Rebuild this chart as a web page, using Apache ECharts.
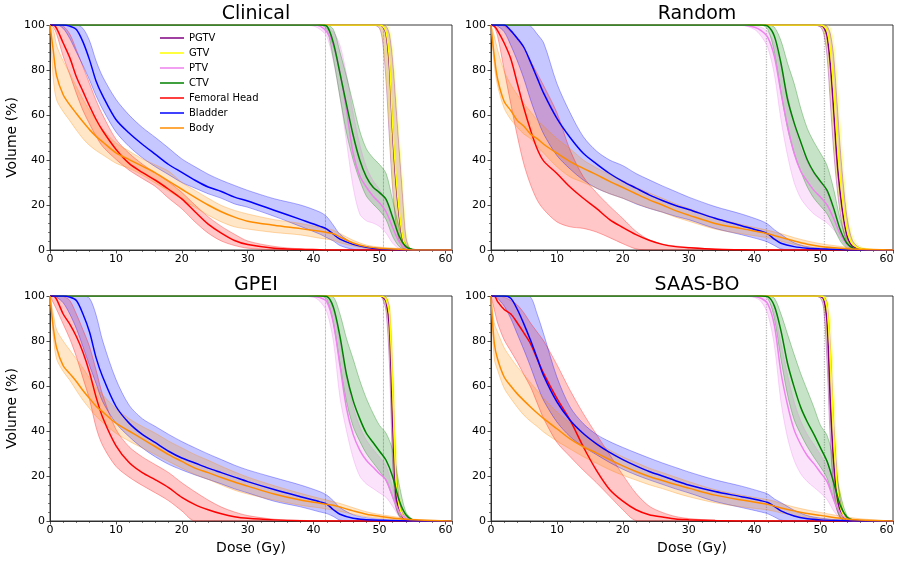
<!DOCTYPE html>
<html>
<head>
<meta charset="utf-8">
<script src="https://cdn.jsdelivr.net/npm/echarts/dist/echarts.min.js"></script>
<style>html,body{margin:0;padding:0;background:#fff}#c{width:899px;height:561px}</style>
</head>
<body>
<div id="c"></div>
<script>
// ---------- axes / categories ----------
const PANELS = ['Clinical', 'Random', 'GPEI', 'SAAS-BO'];
const STRUCTS = ['PGTV', 'GTV', 'PTV', 'CTV', 'Femoral Head', 'Bladder', 'Body'];
const COLORS = ['#800080', '#FFFF00', '#EE82EE', '#008000', '#FF0000', '#0000FF', '#FF8C00'];
const REF_DOSES = [41.8, 50.6];
const X_TICKS = [0, 10, 20, 30, 40, 50, 60];
const Y_TICKS = [0, 20, 40, 60, 80, 100];

// dose grids (Gy)
const OAR_DOSE = [0,0.5,1,2,3,4,5,6,7,8,10,12,14,16,18,20,22,24,26,28,30,34,38,41,42,43,44,46,48,50,53,56,61];
const TV_DOSE = [0,38,40,41,42,43,44,45,46,47,48,49,50,51,52,53,54,55,56,61];
const GTV_DOSE = [0,49,50,50.5,51,51.5,52,52.5,53,53.5,54,54.5,55,56,58,61];

// ---------- Clinical ----------
const clin_pgtv_mean = [100,100,100,99.3,96,82,52,30,15,5,1.2,0.3,0,0,0,0];
const clin_pgtv_lo   = [100,100,98.5,92,75,50,27,12,4,1.2,0.2,0,0,0,0,0];
const clin_pgtv_hi   = [100,100,100,100,99.5,96,84,64,44,24,6,1.2,0.2,0,0,0];
const clin_gtv_mean  = [100,100,100,99.5,97,85,55,33,17,6,1.5,0.4,0.1,0,0,0];
const clin_gtv_lo    = [100,100,99,94,78,55,30,14,5,1.5,0.3,0.1,0,0,0,0];
const clin_gtv_hi    = [100,100,100,100,100,98,88,70,50,30,8,1.5,0.3,0,0,0];
const clin_ptv_mean  = [100,100,100,99.5,97,91,79,62,43,33,28,24,21,17,10,3.5,0.8,0.1,0,0];
const clin_ptv_lo    = [100,100,99.5,98,95,84,68,48,28,16,13,12,10.5,7.5,3,0.6,0,0,0,0];
const clin_ptv_hi    = [100,100,100,100,99,97,91,78,61,47,37,31,27,22,14,5,1.2,0.2,0,0];
const clin_ctv_mean  = [100,100,100,100,99.5,92,78.5,64.5,51,40,32.5,28,25.5,22.5,14.5,6,1.5,0.2,0,0];
const clin_ctv_lo    = [100,100,100,100,98,85,68,52,40,31,24,20.5,17.5,13.5,6,1.5,0.2,0,0,0];
const clin_ctv_hi    = [100,100,100,100,100,98,88,77,65,53,45,41,38,34,22,10,2.5,0.3,0,0];
const clin_fh_mean   = [100,100,98.5,92,85.5,77,70.5,64,58,53,44.8,38.5,34.5,31,27,22.7,17,11.5,7.5,4.2,2.4,0.8,0.3,0.1,0,0,0,0,0,0,0,0,0];
const clin_fh_lo     = [100,99,96,86,78,69.6,62,56,50.5,46,40.3,35.5,31.8,28.2,23,18.3,12.5,7.5,4,2,0.8,0.1,0,0,0,0,0,0,0,0,0,0,0];
const clin_fh_hi     = [100,100,100,99.5,96,89,81.5,74,66.5,60,49.3,43,38.2,34.2,30.3,25.6,20,14.8,10.5,7,4,1.6,0.5,0.2,0.1,0,0,0,0,0,0,0,0];
const clin_bl_mean   = [100,100,100,100,99.5,98,92.5,84.5,75,68.5,58,52,47,42.5,38,34.5,31,28,26,23.5,21.8,17.7,13.6,10.5,9.3,7,4.8,2.5,1.2,0.5,0.1,0,0];
const clin_bl_lo     = [100,100,100,98.5,94,88,82,75.5,68.5,62.5,52.5,46,41,37,33.5,30,27.5,25,23,20.5,19,15,10.5,7,5.5,4,2,0.3,0,0,0,0,0];
const clin_bl_hi     = [100,100,100,100,100,100,98.5,93,84,77,67,60,54.5,50,45.3,40.5,37,33.7,31,28.7,26.5,22.8,20,16.8,14.8,11,7,3,1.6,0.8,0.3,0,0];
const clin_body_mean = [100,88.5,77.5,69,64.5,60.7,57,53.5,50.5,48,43.2,40.2,37.3,34.3,30.6,27,23.4,20,17,14.6,12.8,11,9.5,8.3,7.8,7.2,5.8,3.1,1.5,0.8,0.3,0,0];
const clin_body_lo   = [100,76,66.7,61.5,57.5,53.3,49.5,46.5,44.2,42.3,38.6,36.3,33.3,29.7,26.2,22.5,19,15.5,12.5,10.3,9.3,7.8,6.7,5.2,4.8,4.3,3.2,1.8,0.7,0.3,0,0,0];
const clin_body_hi   = [100,98,91,84,78.5,72.6,67,62,57.5,53.5,47.6,44,40.5,37.8,35,30,26.5,23,19.8,17.6,16,13.5,11.8,10,9.5,8.8,7.3,4.3,2.2,1.3,0.7,0.2,0];

// ---------- Random ----------
const rand_pgtv_mean = [100,100,99.8,99,95,82,62,40,25,14,6.5,3,1.4,0.4,0,0];
const rand_pgtv_lo   = [100,100,99,96,86,65,44,28,16,8,3.5,1.5,0.5,0.1,0,0];
const rand_pgtv_hi   = [100,100,100,100,99.5,96,86,66,45,28,15,7.5,3.5,1,0.1,0];
const rand_gtv_mean  = [100,100,100,99.5,97.5,89,72,50,32,19,9.5,4.5,2.2,0.7,0.1,0];
const rand_gtv_lo    = [100,100,99.5,97.5,90,72,50,32,19,10,4.5,2,0.8,0.2,0,0];
const rand_gtv_hi    = [100,100,100,100,100,98.5,92,76,55,35,19,10,5,1.5,0.2,0];
const rand_ptv_mean  = [100,100,99,97.5,94.5,86,70,55,43,35,30.5,26.5,23.5,20,14,7,2.7,0.7,0.1,0];
const rand_ptv_lo    = [100,99.8,98,95,90,78,58,42,30,23,19,16,14,12,9,5,1.5,0.3,0,0];
const rand_ptv_hi    = [100,100,99.7,99,97,92,82,69,56,45,39,34,30,25.5,17.5,9,3.5,1,0.2,0];
const rand_ctv_mean  = [100,100,100,100,99.5,95,83,67,56.5,48,40,34.5,30.5,26.5,18.5,9,3,0.7,0.1,0];
const rand_ctv_lo    = [100,100,100,100,98,88,70,54,43,35,28,23,19.5,16,10,4,0.8,0.1,0,0];
const rand_ctv_hi    = [100,100,100,100,100,99,93,83,74,63,54,48,43,37.5,27,13.5,5,1.2,0.2,0];
const rand_fh_mean   = [100,99.5,97.5,92,85,74,63,53.3,45,39.5,34,28,23,18.5,13.5,10,6.8,4.3,2.5,1.5,1,0.3,0.1,0,0,0,0,0,0,0,0,0,0];
const rand_fh_lo     = [100,99,95,80,65,50.5,38,29,22.2,18,12.5,10.3,9.6,8,5.5,2.8,0.5,0,0,0,0,0,0,0,0,0,0,0,0,0,0,0,0];
const rand_fh_hi     = [100,100,100,99.5,97,94.5,90,84,78.5,73,61,44.4,32.6,25.5,19.5,14,8.3,4.5,2.6,1.8,1.2,0.4,0.1,0,0,0,0,0,0,0,0,0,0];
const rand_bl_mean   = [100,100,100,100,97.5,94,90,83.5,76.5,69.6,58.5,50,43,38.3,34,30.5,27.5,24.5,22,19.8,18,14.1,10.8,8.3,7.2,4.8,3,1.5,0.8,0.5,0.2,0,0];
const rand_bl_lo     = [100,100,99.5,97,91,84,76,66.7,58.5,51.5,42,36,31.1,27.5,25,23,20.5,18.5,16.8,15,13.5,9.6,6.8,4.5,3.5,2,0.5,0,0,0,0,0,0];
const rand_bl_hi     = [100,100,100,100,100,100,100,99.5,96,92,74,61,50.4,44,40,37.5,34,31.2,28.5,26,23.5,19.3,16,13,11.5,9,7,3.2,1.5,0.8,0.3,0,0];
const rand_body_mean = [100,86,76,66,62,57.5,55,51.5,49.5,47,43,39.3,36.3,33.5,30.5,27.8,25,22.3,20,17.5,15.5,11.8,9.5,7.9,7.2,6.4,5.6,4,2.6,1.6,0.8,0.3,0];
const rand_body_lo   = [100,82,73,63,58,54.5,51.5,49.5,46,43,37,32.5,30,27.5,25,23,20.7,18.6,16.8,14.6,12.8,9.3,7.2,5.9,5.4,4.6,3.9,2.5,1.3,0.6,0.2,0,0];
const rand_body_hi   = [100,95,89,79.5,73.5,69,65,61.5,57.8,55,49.5,45,40,36.5,33.5,30.8,28,25.3,23,20.5,18.5,14.3,11.3,9.4,8.8,8,7.3,5.5,4,2.8,1.6,0.6,0];

// ---------- GPEI ----------
const gpei_pgtv_mean = [100,100,100,99.5,97.5,86,43,11,4.9,2,0.5,0.2,0,0,0,0];
const gpei_pgtv_lo   = [100,100,100,98.5,93,70,25,6,2,0.5,0.1,0,0,0,0,0];
const gpei_pgtv_hi   = [100,100,100,100,99.5,95,65,25,9,3.5,1.2,0.4,0.1,0,0,0];
const gpei_gtv_mean  = [100,100,100,99.8,98.5,92,58,18,6.5,2.5,0.8,0.2,0,0,0,0];
const gpei_gtv_lo    = [100,100,100,99,96,80,40,10,3.5,1,0.3,0,0,0,0,0];
const gpei_gtv_hi    = [100,100,100,100,100,97.5,75,35,12,4.5,1.5,0.5,0.1,0,0,0];
const gpei_ptv_mean  = [100,100,99.8,99.3,97.5,88,69,50,38.5,31.5,27,24,21,18.2,10.8,4,1.2,0.2,0,0];
const gpei_ptv_lo    = [100,100,99.5,97.5,93,80,55,40,28,20,16.5,14.5,12.5,10.5,6.5,2,0.4,0,0,0];
const gpei_ptv_hi    = [100,100,100,99.8,99,94,80,64,51,42,36,32,28.5,24.5,15,6,1.8,0.3,0,0];
const gpei_ctv_mean  = [100,100,100,100,99.8,95,82,65,53.5,45.5,39,35,31,27,19.7,9,2.8,0.5,0.1,0];
const gpei_ctv_lo    = [100,100,100,100,98.5,88,70,53,42,35.5,30,26,22.2,17.8,10.4,2.5,0.3,0,0,0];
const gpei_ctv_hi    = [100,100,100,100,100,99.5,92,81,72,62.5,54.5,48,42.5,39,31.5,16,4,0.8,0.2,0];
const gpei_fh_mean   = [100,100,98.5,92,87.5,82,75,66,55,46,33.5,26,21.5,18.3,14.8,10.5,7.3,5,3.2,1.9,1.2,0.5,0.1,0,0,0,0,0,0,0,0,0,0];
const gpei_fh_lo     = [100,97,94,87.5,81,73,63.5,54,41.5,33.5,24.3,19.5,15.8,12.5,9,4.5,0,0,0,0,0,0,0,0,0,0,0,0,0,0,0,0,0];
const gpei_fh_hi     = [100,100,100,99.8,98,92,85,77.5,67,56,40.8,33,28.5,25,21.5,17,13,9.3,6.2,4,2.4,0.8,0.3,0.1,0,0,0,0,0,0,0,0,0];
const gpei_bl_mean   = [100,100,100,100,99.5,98,92,84,72.5,64,51,43.5,38.5,34.8,31,28,25.8,23.5,21.5,19.5,17.5,14,10.8,8.5,7.5,5,3,1.2,0.6,0.3,0.1,0,0];
const gpei_bl_lo     = [100,100,99.5,97,92,85.5,77.4,69,61,53,43.5,37.5,32.5,28.5,25.2,22.7,20.5,18.5,16.5,14.3,12.5,8.8,6.3,4,3.3,2,0.4,0,0,0,0,0,0];
const gpei_bl_hi     = [100,100,100,100,100,100,100,99,91.5,80,63,51.5,45.5,42,38.5,35.3,32.5,29.8,27.3,24.8,22.7,19.3,16,13,11.5,9,6,2.8,1.5,0.8,0.3,0,0];
const gpei_body_mean = [100,86,77,69,65.5,62,58,54.5,51,48.5,43.5,40,36.5,33,29.5,26.5,23.5,21.5,19.3,17.3,15.5,12,9.3,7.9,7.4,7,6.2,4.5,3,2.1,1,0.4,0];
const gpei_body_lo   = [100,82,72,66.5,62.6,58,53.7,50,46.5,43.8,39,35.5,32.5,29.5,26.5,23.5,20.7,18.5,16,13.7,12,9.3,7,5.8,5.3,4.9,4.3,3,1.9,1.2,0.5,0.1,0];
const gpei_body_hi   = [100,92,85,80,76,72,68,63.5,59.5,56,50,45.5,42,39,35.5,32.5,29.5,27,24.3,21.8,19.5,15.7,12.3,10,9.3,8.5,7.8,5.9,4.1,2.9,1.6,0.6,0];

// ---------- SAAS-BO ----------
const saas_pgtv_mean = [100,100,99.8,98.5,88,52,26,11,4.5,1.6,0.5,0.1,0,0,0,0];
const saas_pgtv_lo   = [100,100,99,94,70,35,14,5,1.5,0.4,0,0,0,0,0,0];
const saas_pgtv_hi   = [100,100,100,99.8,97,78,45,22,9,3.5,1.2,0.3,0,0,0,0];
const saas_gtv_mean  = [100,100,100,99.5,95,72,38,16,6.5,2.5,0.8,0.2,0,0,0,0];
const saas_gtv_lo    = [100,100,99.5,97,82,50,22,8,3,1,0.2,0,0,0,0,0];
const saas_gtv_hi    = [100,100,100,100,99,90,60,30,13,5,1.8,0.5,0.1,0,0,0];
const saas_ptv_mean  = [100,100,99.8,99,96.5,87,66,51.5,40.5,34,29,25.5,21.5,17.5,9.5,3.5,0.8,0.1,0,0];
const saas_ptv_lo    = [100,100,99.3,97.5,92,78,53,37,27,21,17.5,15,12.5,9.5,4.5,1.2,0.2,0,0,0];
const saas_ptv_hi    = [100,100,100,99.7,98.5,93,79,65,53,44.5,38.5,34,29.5,24,14.5,5.5,1.2,0.2,0,0];
const saas_ctv_mean  = [100,100,100,100,99.7,95.5,84.5,70,59.5,50.5,44,38.5,32.5,26.5,17,7,1.8,0.4,0,0];
const saas_ctv_lo    = [100,100,100,100,99,90,72,56,45,38.5,33,28.3,24,19,9.5,1.5,0.1,0,0,0];
const saas_ctv_hi    = [100,100,100,100,100,99,92,83,74,65.5,58,50.5,42.5,38,27,12,2.5,0.4,0,0];
const saas_fh_mean   = [100,100,97.5,94,92,88,83.5,78.8,72,65.5,54.5,44.8,33,22.5,14,8.8,5,2.8,1.8,0.9,0.6,0.2,0,0,0,0,0,0,0,0,0,0,0];
const saas_fh_lo     = [100,94,88,80.5,75.5,70.5,65,59.6,52.5,45.5,35,28.6,22.6,17,11,5,0.2,0,0,0,0,0,0,0,0,0,0,0,0,0,0,0,0];
const saas_fh_hi     = [100,100,100,99.5,98,96,92.5,88,84,80,69.5,58.1,47.8,38.5,29.5,20.5,12.3,6.6,3.8,2,1.1,0.3,0.1,0,0,0,0,0,0,0,0,0,0];
const saas_bl_mean   = [100,100,100,100,99,94,87.5,80.3,72.5,64.5,53,44.8,38.9,34.3,30.5,27.3,24.5,22,20,17.9,16,13.1,10.8,9,8.2,6.5,4.5,2.2,1,0.5,0.2,0,0];
const saas_bl_lo     = [100,100,99,95.5,90,83,76,68.5,60.5,53.5,44,37.5,33,29.5,26,23,20.5,18.3,16.3,14.3,12.5,8.7,6,4,3.2,1.8,0.4,0,0,0,0,0,0];
const saas_bl_hi     = [100,100,100,100,100,100,100,99.5,92,83,64,50.7,43.3,38.5,35.3,32.7,30.3,28,25.8,23.8,21.8,18.3,15.5,13,12,9.8,8.2,4.8,2.4,1.3,0.4,0,0];
const saas_body_mean = [100,79,72,64,60,56.5,53.5,50.7,48,45.5,41,36.5,33,30.2,27.3,24.5,22,19.8,18,16.2,14.6,11.5,9.3,7.9,7.4,6.6,5.8,4.5,3.3,2.5,1.2,0.4,0];
const saas_body_lo   = [100,72,67,59,54.5,50.5,47,44.3,42,39.5,35.5,32,28.6,25.7,22.8,20.3,18.2,16.1,14.4,12.5,10.8,8.1,6.3,5.3,4.9,4.3,3.6,2.5,1.5,0.9,0.3,0,0];
const saas_body_hi   = [100,88,84,77,72.5,68.5,65,61.5,58,54.5,48.5,43.5,39,35,31.5,28.5,26,23.5,21.5,19.5,17.5,13.9,11.5,10,9.5,8.8,7.8,6.2,4.9,3.8,2.2,1,0];

// ---------- table built from the arrays ----------
const TABLE = [
  [[GTV_DOSE,clin_pgtv_mean,clin_pgtv_lo,clin_pgtv_hi],[GTV_DOSE,clin_gtv_mean,clin_gtv_lo,clin_gtv_hi],
   [TV_DOSE,clin_ptv_mean,clin_ptv_lo,clin_ptv_hi],[TV_DOSE,clin_ctv_mean,clin_ctv_lo,clin_ctv_hi],
   [OAR_DOSE,clin_fh_mean,clin_fh_lo,clin_fh_hi],[OAR_DOSE,clin_bl_mean,clin_bl_lo,clin_bl_hi],
   [OAR_DOSE,clin_body_mean,clin_body_lo,clin_body_hi]],
  [[GTV_DOSE,rand_pgtv_mean,rand_pgtv_lo,rand_pgtv_hi],[GTV_DOSE,rand_gtv_mean,rand_gtv_lo,rand_gtv_hi],
   [TV_DOSE,rand_ptv_mean,rand_ptv_lo,rand_ptv_hi],[TV_DOSE,rand_ctv_mean,rand_ctv_lo,rand_ctv_hi],
   [OAR_DOSE,rand_fh_mean,rand_fh_lo,rand_fh_hi],[OAR_DOSE,rand_bl_mean,rand_bl_lo,rand_bl_hi],
   [OAR_DOSE,rand_body_mean,rand_body_lo,rand_body_hi]],
  [[GTV_DOSE,gpei_pgtv_mean,gpei_pgtv_lo,gpei_pgtv_hi],[GTV_DOSE,gpei_gtv_mean,gpei_gtv_lo,gpei_gtv_hi],
   [TV_DOSE,gpei_ptv_mean,gpei_ptv_lo,gpei_ptv_hi],[TV_DOSE,gpei_ctv_mean,gpei_ctv_lo,gpei_ctv_hi],
   [OAR_DOSE,gpei_fh_mean,gpei_fh_lo,gpei_fh_hi],[OAR_DOSE,gpei_bl_mean,gpei_bl_lo,gpei_bl_hi],
   [OAR_DOSE,gpei_body_mean,gpei_body_lo,gpei_body_hi]],
  [[GTV_DOSE,saas_pgtv_mean,saas_pgtv_lo,saas_pgtv_hi],[GTV_DOSE,saas_gtv_mean,saas_gtv_lo,saas_gtv_hi],
   [TV_DOSE,saas_ptv_mean,saas_ptv_lo,saas_ptv_hi],[TV_DOSE,saas_ctv_mean,saas_ctv_lo,saas_ctv_hi],
   [OAR_DOSE,saas_fh_mean,saas_fh_lo,saas_fh_hi],[OAR_DOSE,saas_bl_mean,saas_bl_lo,saas_bl_hi],
   [OAR_DOSE,saas_body_mean,saas_body_lo,saas_body_hi]]
];

// ---------- layout ----------
const FONT = 'DejaVu Sans';
const GRID_POS = [
  {left: 50, top: 25}, {left: 491, top: 25},
  {left: 50, top: 296}, {left: 491, top: 296}
];
const GW = 402, GH = 225;
const REF_STYLE = [
  {color: '#777', width: 0.7}, {color: '#bbb', width: 1.3},
  {color: '#777', width: 0.7}, {color: '#bbb', width: 1.3}
];
const SMOOTH = 0.3;

const grids = [], xAxes = [], yAxes = [], titles = [], series = [];
for (let p = 0; p < 4; p++) {
  const g = GRID_POS[p];
  grids.push({left: g.left, top: g.top, width: GW, height: GH, show: true,
    borderColor: '#222', borderWidth: 0.9, backgroundColor: 'transparent', containLabel: false});
  titles.push({text: PANELS[p], left: g.left + GW / 2, top: g.top - 25, textAlign: 'center',
    textStyle: {fontFamily: FONT, fontSize: 19, fontWeight: 'normal', color: '#000'}});
  xAxes.push({type: 'value', gridIndex: p, min: X_TICKS[0], max: 61, interval: 10,
    name: p >= 2 ? 'Dose (Gy)' : '', nameLocation: 'middle', nameGap: 20,
    nameTextStyle: {fontFamily: FONT, fontSize: 14, color: '#000'},
    axisLine: {show: true, onZero: false, lineStyle: {color: '#222', width: 0.9}},
    axisTick: {show: true, length: 3.5, lineStyle: {color: '#222', width: 0.8}},
    minorTick: {show: true, splitNumber: 5, length: 2, lineStyle: {color: '#222', width: 0.6}},
    axisLabel: {fontFamily: FONT, fontSize: 11, color: '#000', margin: 4, showMaxLabel: false},
    splitLine: {show: false}, minorSplitLine: {show: false}});
  yAxes.push({type: 'value', gridIndex: p, min: Y_TICKS[0], max: Y_TICKS[Y_TICKS.length - 1], interval: 20,
    name: (p % 2 === 0) ? 'Volume (%)' : '', nameLocation: 'middle', nameGap: 31,
    nameTextStyle: {fontFamily: FONT, fontSize: 14, color: '#000'},
    axisLine: {show: true, onZero: false, lineStyle: {color: '#222', width: 0.9}},
    axisTick: {show: true, length: 3.5, lineStyle: {color: '#222', width: 0.8}},
    minorTick: {show: true, splitNumber: 5, length: 2, lineStyle: {color: '#222', width: 0.6}},
    axisLabel: {fontFamily: FONT, fontSize: 11, color: '#000', margin: 5},
    splitLine: {show: false}, minorSplitLine: {show: false}});

  // reference dose lines
  REF_DOSES.forEach((d, k) => {
    series.push({type: 'line', name: 'ref' + k, xAxisIndex: p, yAxisIndex: p, silent: true,
      data: [[d, Y_TICKS[0]], [d, Y_TICKS[Y_TICKS.length - 1]]], symbol: 'none',
      lineStyle: {type: 'dotted', color: REF_STYLE[p].color, width: REF_STYLE[p].width}, z: 1});
  });

  STRUCTS.forEach((s, si) => {
    const [dose, mean, lo, hi] = TABLE[p][si];
    const c = COLORS[si];
    const stackId = 'band_' + p + '_' + si;
    const common = {type: 'line', xAxisIndex: p, yAxisIndex: p, symbol: 'none', silent: true,
      smooth: SMOOTH, stack: stackId, stackStrategy: 'all', encode: {x: 1, y: 0},
      lineStyle: {color: c, width: 0.8, opacity: 0.4}, z: 2};
    series.push(Object.assign({}, common, {name: s + ' lower',
      data: dose.map((d, i) => [lo[i], d])}));
    series.push(Object.assign({}, common, {name: s + ' upper',
      data: dose.map((d, i) => [Math.max(0, hi[i] - lo[i]), d]),
      areaStyle: {color: c, opacity: 0.22}}));
    series.push({type: 'line', name: s, xAxisIndex: p, yAxisIndex: p, symbol: 'none', showSymbol: false, silent: true,
      smooth: SMOOTH,
      data: dose.map((d, i) => [d, mean[i]]),
      itemStyle: {color: c}, lineStyle: {color: c, width: 1.5}, z: 3});
  });
}

const chart = echarts.init(document.getElementById('c'), null, {renderer: 'canvas'});
chart.setOption({
  animation: false,
  backgroundColor: '#fff',
  textStyle: {fontFamily: FONT},
  title: titles,
  grid: grids,
  xAxis: xAxes,
  yAxis: yAxes,
  legend: {
    data: STRUCTS.map(s => ({name: s, icon: 'path://M0,0L24,0L24,1.5L0,1.5Z'})),
    orient: 'vertical', left: 160, top: 33, padding: 0,
    itemWidth: 24, itemHeight: 10, itemGap: 5,
    textStyle: {fontFamily: FONT, fontSize: 10, color: '#000'}, selectedMode: false},
  series: series
});
</script>
</body>
</html>
